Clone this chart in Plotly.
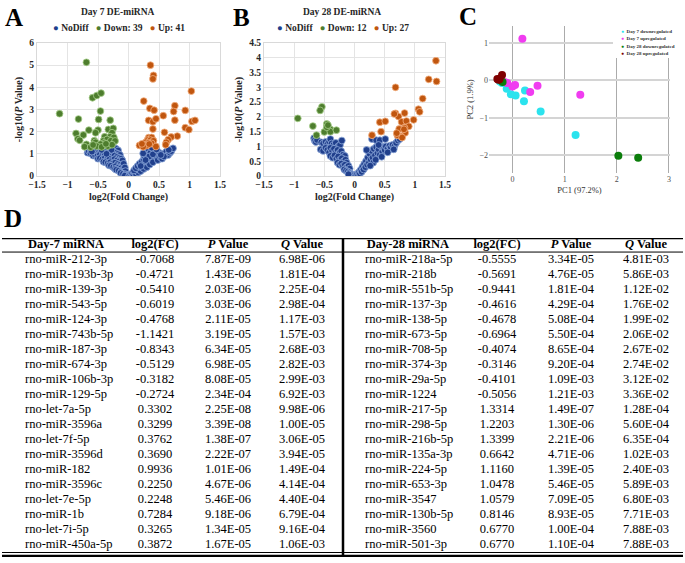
import plotly.graph_objects as go

W, H = 685, 563
SERIF = "Liberation Serif"

# ---------------- Panel A: Day 7 volcano (log2FC, -log10 P) ----------------
d7_down_x = [-0.69, -0.59, -0.52, -0.45, -0.46, -1.13, -0.82, -0.49, -0.30, -0.86,
             -0.74, -0.83, -0.80, -0.65, -0.50, -0.54, -0.33, -0.25, -0.27, -0.39,
             -0.30, -0.24, -0.56, -0.54, -0.41, -0.35, -0.29, -0.40, -0.46, -0.22,
             -0.69, -0.72, -0.34, -0.27, -0.52, -0.62, -0.44, -0.58, -0.37]
d7_down_y = [5.13, 3.53, 3.63, 3.74, 2.93, 2.81, 2.57, 2.55, 2.52, 1.92,
             1.85, 1.68, 1.61, 2.07, 2.07, 1.95, 2.10, 2.15, 1.95, 1.77,
             1.77, 1.74, 1.59, 1.52, 1.59, 1.65, 1.59, 1.49, 1.44, 1.58,
             1.43, 1.32, 1.35, 1.41, 1.35, 1.30, 1.31, 1.40, 1.45]
d7_up_x = [0.36, 0.41, 0.40, 1.03, 0.25, 0.35, 0.42, 0.76, 0.74, 0.93,
           0.57, 0.33, 0.40, 0.45, 0.76, 1.04, 1.09, 0.40, 0.93, 0.99,
           0.59, 0.80, 0.70, 0.65, 0.62, 0.61, 0.33, 0.38, 0.31, 0.36,
           0.41, 0.28, 0.33, 0.38, 0.26, 0.30, 0.18, 0.24, 0.45, 0.34, 0.22]
d7_up_y = [5.00, 4.54, 4.38, 3.83, 3.38, 3.05, 2.97, 3.17, 2.91, 2.96,
           2.72, 2.51, 2.45, 2.58, 2.52, 2.46, 2.51, 2.12, 2.18, 2.09,
           1.97, 1.80, 1.76, 1.64, 1.52, 1.41, 1.73, 1.74, 1.62, 1.62,
           1.59, 1.52, 1.50, 1.47, 1.41, 1.37, 1.38, 1.32, 1.33, 1.44, 1.45]
d7_nodiff_pts = [
    (-0.67, 1.05), (-0.65, 1.12), (-0.62, 1.18), (-0.58, 1.22), (-0.55, 1.25), (-0.50, 1.24),
    (-0.46, 1.27), (-0.42, 1.22), (-0.38, 1.26), (-0.35, 1.20), (-0.31, 1.28), (-0.27, 1.25),
    (-0.23, 1.27), (-0.20, 1.22), (-0.17, 1.15),
    (-0.62, 1.02), (-0.57, 1.08), (-0.53, 1.12), (-0.49, 1.05), (-0.45, 1.10), (-0.41, 1.08),
    (-0.37, 1.12), (-0.33, 1.05), (-0.29, 1.10), (-0.25, 1.08), (-0.21, 1.04), (-0.17, 1.00),
    (-0.14, 0.95), (-0.58, 0.92),
    (-0.55, 0.95), (-0.51, 0.90), (-0.47, 0.96), (-0.43, 0.92), (-0.39, 0.95), (-0.35, 0.90),
    (-0.31, 0.94), (-0.27, 0.90), (-0.23, 0.92), (-0.19, 0.86), (-0.15, 0.82), (-0.12, 0.78),
    (-0.50, 0.78), (-0.47, 0.80), (-0.43, 0.75), (-0.39, 0.80), (-0.35, 0.74), (-0.31, 0.78),
    (-0.27, 0.72), (-0.23, 0.76), (-0.19, 0.70), (-0.15, 0.66), (-0.11, 0.62), (-0.10, 0.70),
    (-0.41, 0.64), (-0.38, 0.62), (-0.34, 0.58), (-0.30, 0.62), (-0.26, 0.56), (-0.22, 0.60),
    (-0.18, 0.54), (-0.14, 0.50), (-0.10, 0.46), (-0.08, 0.55),
    (-0.32, 0.48), (-0.29, 0.46), (-0.25, 0.40), (-0.21, 0.44), (-0.17, 0.38), (-0.13, 0.34),
    (-0.09, 0.30), (-0.06, 0.38),
    (-0.22, 0.32), (-0.20, 0.28), (-0.16, 0.24), (-0.12, 0.20), (-0.08, 0.18), (-0.05, 0.22),
    (-0.13, 0.14), (-0.09, 0.10), (-0.05, 0.08), (-0.03, 0.04), (-0.01, 0.01), (-0.06, 0.02),
    (0.01, 0.01), (0.03, 0.05), (0.05, 0.02), (0.06, 0.12), (0.08, 0.06), (0.10, 0.15),
    (0.12, 0.10), (0.14, 0.22), (0.16, 0.16), (0.18, 0.28), (0.20, 0.22), (0.09, 0.25),
    (0.12, 0.35), (0.15, 0.45), (0.18, 0.55), (0.22, 0.38), (0.25, 0.32), (0.22, 0.65),
    (0.25, 0.75), (0.28, 0.48), (0.30, 0.40), (0.26, 0.88), (0.30, 0.95), (0.32, 0.62),
    (0.35, 0.52), (0.30, 1.10), (0.33, 1.20), (0.36, 1.05), (0.38, 0.78), (0.40, 0.62),
    (0.42, 1.25), (0.44, 1.12), (0.45, 0.90), (0.48, 0.72), (0.50, 1.05), (0.52, 0.85),
    (0.55, 0.78), (0.56, 1.00), (0.60, 0.92), (0.62, 1.10), (0.65, 0.95), (0.68, 1.05),
    (0.70, 1.12), (0.73, 1.25), (0.34, 0.88), (0.40, 0.98), (0.46, 1.20), (0.28, 0.72),
    (0.20, 0.45), (0.38, 1.28), (0.24, 1.02), (0.58, 0.88), (-0.60, 1.10), (-0.44, 1.18),
    (-0.28, 1.18), (-0.36, 1.00), (0.66, 1.18), (0.53, 0.95)]

# ---------------- Panel B: Day 28 volcano ----------------
d28_down_x = [-0.94, -0.54, -0.57, -0.69, -0.46, -0.50, -0.40, -0.40, -0.30, -0.63, -0.46, -0.44]
d28_down_y = [1.95, 2.34, 2.22, 1.69, 1.76, 1.49, 1.58, 1.50, 1.55, 1.38, 1.65, 1.72]
d28_up_x = [1.35, 1.23, 1.36, 0.68, 1.13, 1.06, 1.08, 0.68, 0.73, 0.83,
            0.98, 0.42, 0.51, 0.78, 0.86, 0.90, 0.83, 0.74, 0.44, 0.84,
            0.77, 0.29, 0.71, 0.70, 0.79, 0.66, 0.82]
d28_up_y = [3.90, 3.27, 3.20, 3.00, 2.62, 2.26, 2.17, 2.12, 2.01, 2.13,
            1.90, 1.82, 1.85, 1.83, 1.86, 1.68, 1.63, 1.59, 1.50, 1.46,
            1.34, 1.38, 1.38, 1.45, 1.30, 2.10, 1.58]
d28_nodiff_pts = [
    (-0.67, 1.28), (-0.66, 1.20), (-0.64, 1.15), (-0.62, 1.22), (-0.55, 1.14), (-0.52, 1.10),
    (-0.48, 1.15), (-0.45, 1.08), (-0.42, 1.16), (-0.40, 1.25), (-0.38, 1.10), (-0.35, 1.05),
    (-0.31, 1.12), (-0.27, 1.00), (-0.24, 1.05), (-0.21, 1.20),
    (-0.56, 0.90), (-0.52, 0.85), (-0.48, 0.95), (-0.45, 0.88), (-0.42, 0.80), (-0.40, 0.95),
    (-0.37, 0.85), (-0.34, 0.92), (-0.31, 0.80), (-0.28, 0.88), (-0.25, 0.78), (-0.22, 0.84),
    (-0.19, 0.72), (-0.16, 0.68),
    (-0.40, 0.68), (-0.36, 0.62), (-0.33, 0.70), (-0.30, 0.58), (-0.27, 0.66), (-0.24, 0.55),
    (-0.21, 0.60), (-0.18, 0.50), (-0.15, 0.55), (-0.13, 0.45),
    (-0.28, 0.45), (-0.25, 0.38), (-0.22, 0.42), (-0.19, 0.34), (-0.16, 0.38), (-0.13, 0.30),
    (-0.10, 0.34), (-0.08, 0.25),
    (-0.17, 0.22), (-0.14, 0.18), (-0.11, 0.15), (-0.08, 0.12), (-0.06, 0.08), (-0.04, 0.05),
    (-0.02, 0.02), (-0.10, 0.06),
    (0.02, 0.02), (0.04, 0.06), (0.06, 0.03), (0.07, 0.12), (0.09, 0.08), (0.10, 0.20),
    (0.12, 0.14), (0.13, 0.30), (0.15, 0.22), (0.16, 0.40), (0.18, 0.30), (0.19, 0.50),
    (0.21, 0.38), (0.22, 0.62), (0.24, 0.45), (0.25, 0.75), (0.27, 0.55), (0.28, 0.85),
    (0.30, 0.62), (0.32, 0.92), (0.34, 0.70), (0.36, 0.98), (0.38, 0.78), (0.40, 0.90),
    (0.42, 0.72), (0.44, 1.00), (0.46, 0.82), (0.48, 0.95), (0.50, 0.88), (0.52, 1.00),
    (0.55, 0.92), (0.58, 1.02), (0.60, 0.95), (0.63, 1.05), (0.66, 1.00), (0.69, 1.12),
    (0.72, 1.20), (0.75, 1.25), (0.29, 1.25), (0.36, 1.21), (0.42, 1.21), (0.51, 1.25),
    (0.20, 0.88), (0.31, 0.45), (0.26, 0.35), (0.35, 0.55), (0.45, 0.65), (0.55, 0.80),
    (0.65, 0.90), (0.40, 1.05)]

# ---------------- Panel C: PCA ----------------
pc_d7_down_x = [0.54, 1.21, 0.22, 0.24, 0.06, -0.03, -0.11, -0.20, -0.24]
pc_d7_down_y = [-0.83, -1.46, -0.56, -0.27, -0.40, -0.37, -0.22, -0.07, -0.03]
pc_d7_up_x = [0.19, 1.30, 0.48, 0.34, 0.05, 0.00, -0.10, -0.14, -0.20]
pc_d7_up_y = [1.12, -0.38, -0.14, -0.31, -0.12, -0.16, -0.07, -0.05, -0.01]
pc_d28_down_x = [2.03, 2.41, -0.19, -0.24]
pc_d28_down_y = [-2.02, -2.07, -0.04, 0.02]
pc_d28_up_x = [-0.20, -0.29, -0.25, -0.27]
pc_d28_up_y = [0.15, 0.04, 0.03, 0.02]
pc_names = ["Day 7 downregulated", "Day 7 upregulated", "Day 28 downregulated", "Day 28 upregulated"]

# ---------------- Panel D: table ----------------
d7_mirna = ["rno-miR-212-3p", "rno-miR-193b-3p", "rno-miR-139-3p", "rno-miR-543-5p", "rno-miR-124-3p",
            "rno-miR-743b-5p", "rno-miR-187-3p", "rno-miR-674-3p", "rno-miR-106b-3p", "rno-miR-129-5p",
            "rno-let-7a-5p", "rno-miR-3596a", "rno-let-7f-5p", "rno-miR-3596d", "rno-miR-182",
            "rno-miR-3596c", "rno-let-7e-5p", "rno-miR-1b", "rno-let-7i-5p", "rno-miR-450a-5p"]
d7_fc = [-0.7068, -0.4721, -0.5410, -0.6019, -0.4768, -1.1421, -0.8343, -0.5129, -0.3182, -0.2724,
         0.3302, 0.3299, 0.3762, 0.3690, 0.9936, 0.2250, 0.2248, 0.7284, 0.3265, 0.3872]
d7_p = [7.87e-09, 1.43e-06, 2.03e-06, 3.03e-06, 2.11e-05, 3.19e-05, 6.34e-05, 6.98e-05, 8.08e-05, 2.34e-04,
        2.25e-08, 3.39e-08, 1.38e-07, 2.22e-07, 1.01e-06, 4.67e-06, 5.46e-06, 9.18e-06, 1.34e-05, 1.67e-05]
d7_q = [6.98e-06, 1.81e-04, 2.25e-04, 2.98e-04, 1.17e-03, 1.57e-03, 2.68e-03, 2.82e-03, 2.99e-03, 6.92e-03,
        9.98e-06, 1.00e-05, 3.06e-05, 3.94e-05, 1.49e-04, 4.14e-04, 4.40e-04, 6.79e-04, 9.16e-04, 1.06e-03]
d28_mirna = ["rno-miR-218a-5p", "rno-miR-218b", "rno-miR-551b-5p", "rno-miR-137-3p", "rno-miR-138-5p",
             "rno-miR-673-5p", "rno-miR-708-5p", "rno-miR-374-3p", "rno-miR-29a-5p", "rno-miR-1224",
             "rno-miR-217-5p", "rno-miR-298-5p", "rno-miR-216b-5p", "rno-miR-135a-3p", "rno-miR-224-5p",
             "rno-miR-653-3p", "rno-miR-3547", "rno-miR-130b-5p", "rno-miR-3560", "rno-miR-501-3p"]
d28_fc = [-0.5555, -0.5691, -0.9441, -0.4616, -0.4678, -0.6964, -0.4074, -0.3146, -0.4101, -0.5056,
          1.3314, 1.2203, 1.3399, 0.6642, 1.1160, 1.0478, 1.0579, 0.8146, 0.6770, 0.6770]
d28_p = [3.34e-05, 4.76e-05, 1.81e-04, 4.29e-04, 5.08e-04, 5.50e-04, 8.65e-04, 9.20e-04, 1.09e-03, 1.21e-03,
         1.49e-07, 1.30e-06, 2.21e-06, 4.71e-06, 1.39e-05, 5.46e-05, 7.09e-05, 8.93e-05, 1.00e-04, 1.10e-04]
d28_q = [4.81e-03, 5.86e-03, 1.12e-02, 1.76e-02, 1.99e-02, 2.06e-02, 2.67e-02, 2.74e-02, 3.12e-02, 3.36e-02,
         1.28e-04, 5.60e-04, 6.35e-04, 1.02e-03, 2.40e-03, 5.89e-03, 6.80e-03, 7.71e-03, 7.88e-03, 7.88e-03]
d7_headers = ["Day-7 miRNA", "log2(FC)", "<i>P</i> Value", "<i>Q</i> Value"]
d28_headers = ["Day-28 miRNA", "log2(FC)", "<i>P</i> Value", "<i>Q</i> Value"]

# ---------------- styles ----------------
C_BLUE, C_BLUE_EDGE = "#203F8C", "#8EA9DB"
C_GREEN, C_GREEN_EDGE = "#4E7D2E", "#A9D08E"
C_ORANGE, C_ORANGE_EDGE = "#C0560F", "#F4B183"
PC_COLORS = ["#2BE3EE", "#F03CF0", "#0B7D0B", "#800000"]


def px_x(p):
    return p / W


def px_y(p):
    return 1 - p / H


fig = go.Figure()


def vol_marker(c, e):
    return dict(size=6.8, color=c, line=dict(color=e, width=0.8))


for xa, ya, nd, dx, dy, ux, uy in [
        ("x", "y", d7_nodiff_pts, d7_down_x, d7_down_y, d7_up_x, d7_up_y),
        ("x2", "y2", d28_nodiff_pts, d28_down_x, d28_down_y, d28_up_x, d28_up_y)]:
    fig.add_trace(go.Scatter(x=[p[0] for p in nd], y=[p[1] for p in nd], mode="markers",
                             marker=vol_marker(C_BLUE, C_BLUE_EDGE), xaxis=xa, yaxis=ya,
                             showlegend=False, hoverinfo="skip"))
    fig.add_trace(go.Scatter(x=dx, y=dy, mode="markers", marker=vol_marker(C_GREEN, C_GREEN_EDGE),
                             xaxis=xa, yaxis=ya, showlegend=False, hoverinfo="skip"))
    fig.add_trace(go.Scatter(x=ux, y=uy, mode="markers", marker=vol_marker(C_ORANGE, C_ORANGE_EDGE),
                             xaxis=xa, yaxis=ya, showlegend=False, hoverinfo="skip"))

for (xs, ys), col in zip([(pc_d7_down_x, pc_d7_down_y), (pc_d7_up_x, pc_d7_up_y),
                          (pc_d28_down_x, pc_d28_down_y), (pc_d28_up_x, pc_d28_up_y)], PC_COLORS):
    fig.add_trace(go.Scatter(x=xs, y=ys, mode="markers", xaxis="x3", yaxis="y3",
                             marker=dict(size=8, color=col, line=dict(width=0)),
                             showlegend=False, hoverinfo="skip"))

# ---- table as text on its own axes ----
TBL_FONT = dict(family=SERIF, size=12.5, color="black")
rows = list(range(1, len(d7_mirna) + 1))
fmt_fc = lambda v: "%.4f" % v
fmt_e = lambda v: "%.2E" % v
left_cols = [(25, "middle right", d7_mirna), (155, "middle center", [fmt_fc(v) for v in d7_fc]),
             (228, "middle center", [fmt_e(v) for v in d7_p]), (302, "middle center", [fmt_e(v) for v in d7_q])]
right_cols = [(365, "middle right", d28_mirna), (497, "middle center", [fmt_fc(v) for v in d28_fc]),
              (571, "middle center", [fmt_e(v) for v in d28_p]), (646, "middle center", [fmt_e(v) for v in d28_q])]
for xc, pos, vals in left_cols + right_cols:
    fig.add_trace(go.Scatter(x=[xc] * len(vals), y=rows, mode="text", text=vals, textposition=pos,
                             textfont=TBL_FONT, xaxis="x4", yaxis="y4", showlegend=False, hoverinfo="skip"))
hdr_x = [66, 155, 228, 302, 408, 497, 571, 646]
fig.add_trace(go.Scatter(x=hdr_x, y=[0] * 8, mode="text",
                         text=["<b>%s</b>" % h for h in d7_headers + d28_headers],
                         textposition="middle center", textfont=TBL_FONT, xaxis="x4", yaxis="y4",
                         showlegend=False, hoverinfo="skip"))

# ---------------- axes ----------------
tickf = dict(family=SERIF, size=9.5, color="#262626", weight="bold")
titf = dict(family=SERIF, size=10, color="#262626", weight="bold")
vol_common = dict(showgrid=True, gridcolor="#E4E4E4", gridwidth=1, zeroline=False,
                  showline=True, linecolor="#D9D9D9", linewidth=1, mirror=True, tickfont=tickf,
                  ticks="", fixedrange=True, automargin=False)
pc_common = dict(showgrid=True, zeroline=False, showline=False, ticks="", automargin=False,
                 tickfont=dict(family=SERIF, size=8, color="#4D4D4D"), fixedrange=True)
fig.update_layout(
    template="none",
    xaxis=dict(domain=[px_x(37), px_x(220)], range=[-1.5, 1.5], dtick=0.5, anchor="y",
               title=dict(text="log2(Fold Change)", font=titf, standoff=3), **vol_common),
    yaxis=dict(domain=[px_y(176), px_y(43)], range=[0, 6], dtick=1, anchor="x",
               title=dict(text="-log10(<i>P</i> Value)", font=titf, standoff=4), **vol_common),
    xaxis2=dict(domain=[px_x(264), px_x(445)], range=[-1.5, 1.5], dtick=0.5, anchor="y2",
                title=dict(text="log2(Fold Change)", font=titf, standoff=3), **vol_common),
    yaxis2=dict(domain=[px_y(176), px_y(43)], range=[0, 4.5], dtick=0.5, anchor="x2",
                title=dict(text="-log10(<i>P</i> Value)", font=titf, standoff=4), **vol_common),
    xaxis3=dict(domain=[px_x(489), px_x(670)], range=[-0.45, 3.02], dtick=1, anchor="y3",
                gridcolor="#ABABAB", gridwidth=1,
                title=dict(text="PC1 (97.2%)", font=dict(family=SERIF, size=8.5, color="#333"), standoff=4),
                **pc_common),
    yaxis3=dict(domain=[px_y(173), px_y(26)], range=[-2.48, 1.46], dtick=1, anchor="x3",
                gridcolor="#D4D4D4", gridwidth=2,
                title=dict(text="PC2 (1.9%)", font=dict(family=SERIF, size=8.5, color="#333"), standoff=4),
                **pc_common),
    xaxis4=dict(domain=[0, 1], range=[0, W], visible=False, anchor="y4", fixedrange=True, automargin=False),
    yaxis4=dict(domain=[px_y(557), px_y(238)], range=[(557 - 245) / 15.0, (238 - 245) / 15.0],
                visible=False, anchor="x4", fixedrange=True, automargin=False),
)

# ---------------- table lines ----------------
n = len(d7_mirna)
r_top, r_hdr, r_bot1, r_bot2 = -0.47, 0.47, n + 0.5, n + 0.73
shapes = [
    dict(type="line", xref="x4", yref="y4", x0=2, x1=683, y0=r_top, y1=r_top, line=dict(color="black", width=2.5)),
    dict(type="line", xref="x4", yref="y4", x0=2, x1=683, y0=r_hdr, y1=r_hdr, line=dict(color="black", width=1)),
    dict(type="line", xref="x4", yref="y4", x0=2, x1=683, y0=r_bot1, y1=r_bot1, line=dict(color="black", width=1)),
    dict(type="line", xref="x4", yref="y4", x0=2, x1=683, y0=r_bot2, y1=r_bot2, line=dict(color="black", width=2.5)),
    dict(type="line", xref="x4", yref="y4", x0=343, x1=343, y0=r_top, y1=r_bot2, line=dict(color="black", width=2.5)),
    # white box behind PCA legend
    dict(type="rect", xref="paper", yref="paper", x0=px_x(613), x1=px_x(672), y0=px_y(58), y1=px_y(25),
         fillcolor="white", line=dict(width=0), layer="above"),
]

# ---------------- annotations ----------------
ann = []
for lbl, xp, yp in [("A", 3, 2), ("B", 231, 2), ("C", 457, 1), ("D", 2, 203)]:
    ann.append(dict(text="<b>%s</b>" % lbl, x=px_x(xp), y=px_y(yp), xref="paper", yref="paper",
                    xanchor="left", yanchor="top", showarrow=False,
                    font=dict(family=SERIF, size=25, color="black")))
for ttl, xc in [("Day 7 DE-miRNA", 117), ("Day 28 DE-miRNA", 342)]:
    ann.append(dict(text="<b>%s</b>" % ttl, x=px_x(xc), y=px_y(12), xref="paper", yref="paper",
                    xanchor="center", yanchor="middle", showarrow=False,
                    font=dict(family=SERIF, size=9.5, color="#262626")))
for xc, nd_, dn, up in [(119, d7_nodiff_pts, d7_down_x, d7_up_x), (343, d28_nodiff_pts, d28_down_x, d28_up_x)]:
    txt = ('<span style="color:%s">●</span> NoDiff &nbsp; <span style="color:%s">●</span> Down: %d &nbsp; '
           '<span style="color:%s">●</span> Up: %d' % (C_BLUE, C_GREEN, len(dn), C_ORANGE, len(up)))
    ann.append(dict(text="<b>%s</b>" % txt, x=px_x(xc), y=px_y(28), xref="paper", yref="paper",
                    xanchor="center", yanchor="middle", showarrow=False,
                    font=dict(family=SERIF, size=9.5, color="#262626")))
for i, (nm, col) in enumerate(zip(pc_names, PC_COLORS)):
    yy = 31 + i * 7.6
    ann.append(dict(text='<span style="color:%s">●</span>&nbsp;&nbsp;<b>%s</b>' % (col, nm),
                    x=px_x(619), y=px_y(yy), xref="paper", yref="paper", xanchor="left",
                    yanchor="middle", showarrow=False,
                    font=dict(family=SERIF, size=5, color="#333")))

fig.update_layout(width=W, height=H, margin=dict(l=0, r=0, t=0, b=0), paper_bgcolor="white",
                  plot_bgcolor="white", shapes=shapes, annotations=ann, showlegend=False)

fig.write_html("out.html", post_script="document.body.style.margin='0px';",
               config={"displayModeBar": False})
